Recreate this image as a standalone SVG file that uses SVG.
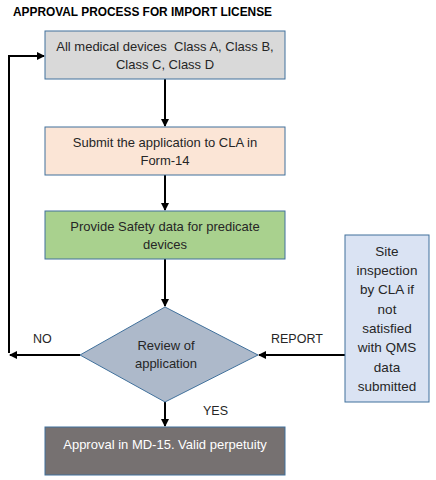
<svg xmlns="http://www.w3.org/2000/svg" width="436" height="480" viewBox="0 0 436 480">
<defs>
<marker id="ah" markerWidth="8" markerHeight="8" refX="7" refY="4" orient="auto" markerUnits="userSpaceOnUse">
<path d="M0,0 L8,4 L0,8 z" fill="#000"/>
</marker>
<style>
.t{font-family:"Liberation Sans",Arial,sans-serif;font-size:13px;fill:#262626;text-anchor:middle}
.s{font-size:13.5px}
.box{stroke:#41719c;stroke-width:1}
.c{stroke:#000;stroke-width:2;fill:none}
.lab{font-family:"Liberation Sans",Arial,sans-serif;font-size:12.5px;fill:#262626}
</style>
</defs>
<rect width="436" height="480" fill="#fff"/>
<text x="13" y="16" font-family="Liberation Sans,Arial,sans-serif" font-weight="bold" font-size="12" fill="#000" textLength="259" lengthAdjust="spacingAndGlyphs">APPROVAL PROCESS FOR IMPORT LICENSE</text>
<g id="connectors">
<line class="c" x1="165" y1="79" x2="165" y2="126" marker-end="url(#ah)"/>
<line class="c" x1="165" y1="175" x2="165" y2="210" marker-end="url(#ah)"/>
<line class="c" x1="165" y1="259" x2="165" y2="306" marker-end="url(#ah)"/>
<line class="c" x1="165" y1="402" x2="165" y2="426" marker-end="url(#ah)"/>
<line class="c" x1="80" y1="355" x2="10" y2="355" marker-end="url(#ah)"/>
<polyline class="c" points="9,353 9,56 44,56" marker-end="url(#ah)"/>
<line class="c" x1="345" y1="355" x2="259" y2="355" marker-end="url(#ah)"/>
<text class="lab" x="33" y="343">NO</text>
<text class="lab" x="271" y="343">REPORT</text>
<text class="lab" x="203" y="415">YES</text>
</g>
<g id="n1">
<rect class="box" x="45" y="31" width="240" height="48" fill="#d9d9d9"/>
<text class="t" x="165" y="51">All medical devices&#160; Class A, Class B,</text>
<text class="t" x="165" y="69">Class C, Class D</text>
</g>
<g id="n2">
<rect class="box" x="45" y="127" width="240" height="48" fill="#fbe5d6"/>
<text class="t" x="165" y="147">Submit the application to CLA in</text>
<text class="t" x="165" y="165">Form-14</text>
</g>
<g id="n3">
<rect class="box" x="45" y="211" width="240" height="48" fill="#a9d18e"/>
<text class="t" x="165" y="231">Provide Safety data for predicate</text>
<text class="t" x="165" y="249">devices</text>
</g>
<g id="n4">
<polygon class="box" points="165,307 258,355 165,402 80,355" fill="#adb9ca"/>
<text class="t" x="166" y="350">Review of</text>
<text class="t" x="166" y="368">application</text>
</g>
<g id="n5">
<rect class="box" x="45" y="427" width="240" height="48" fill="#767171"/>
<text class="t" x="165" y="449" style="fill:#fff">Approval in MD-15. Valid perpetuity</text>
</g>
<g id="n6">
<rect class="box" x="345" y="235" width="84" height="167" fill="#dae3f3"/>
<text class="t s" x="387" y="256">Site</text>
<text class="t s" x="387" y="275">inspection</text>
<text class="t s" x="387" y="294">by CLA if</text>
<text class="t s" x="387" y="314">not</text>
<text class="t s" x="387" y="333">satisfied</text>
<text class="t s" x="387" y="352">with QMS</text>
<text class="t s" x="387" y="372">data</text>
<text class="t s" x="387" y="391">submitted</text>
</g>
</svg>
